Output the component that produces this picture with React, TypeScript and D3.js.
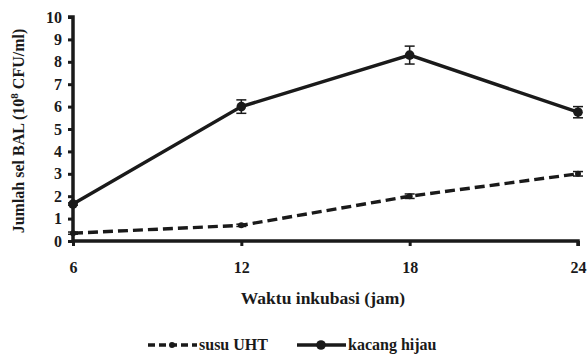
import React, { useEffect, useRef } from 'react'
import * as d3 from 'd3'

const hours = [6, 12, 18, 24]
const susuUHT = [0.35, 0.7, 2.0, 3.0]
const susuErr = [0.05, 0.05, 0.1, 0.1]
const kacangHijau = [1.65, 6.0, 8.3, 5.75]
const kacangErr = [0.05, 0.3, 0.4, 0.25]
const yTicks = [0, 1, 2, 3, 4, 5, 6, 7, 8, 9, 10]

const W = 587
const H = 356
const FONT = 'Liberation Serif, DejaVu Serif, Times New Roman, serif'
const INK = '#1a1a1a'

export default function App() {
  const ref = useRef<SVGSVGElement>(null)

  useEffect(() => {
    const svg = d3.select(ref.current)
    svg.selectAll('*').remove()

    const x = d3.scaleLinear().domain([6, 24]).range([73, 578])
    const y = d3.scaleLinear().domain([0, 10]).range([241, 17])

    // axes
    const yAxis = d3.axisLeft(y).tickValues(yTicks).tickSize(5).tickPadding(6)
    const gy = svg.append('g').attr('transform', `translate(${x(6)},0)`).call(yAxis)
    const xAxis = d3.axisBottom(x).tickValues(hours).tickSize(5).tickPadding(16)
    const gx = svg.append('g').attr('transform', `translate(0,${y(0)})`).call(xAxis)

    ;[gx, gy].forEach(g => {
      g.attr('font-family', FONT).attr('font-size', 16).attr('font-weight', 'bold')
      g.select('.domain').attr('stroke', INK).attr('stroke-width', 3.5)
      g.selectAll('.tick line').attr('stroke', INK).attr('stroke-width', 3)
      g.selectAll('.tick text').attr('fill', INK)
    })
    gx.select('.domain').attr('d', `M${x(6)},0H${x(24)}V5`)
    gy.select('.domain').attr('d', `M-5,${y(10)}H0V${y(0)}`)

    const line = d3.line<number>().x((_, i) => x(hours[i])).y(d => y(d))

    const drawSeries = (vals: number[], errs: number[], dashed: boolean, r: number) => {
      svg.append('path')
        .attr('d', line(vals))
        .attr('fill', 'none')
        .attr('stroke', INK)
        .attr('stroke-width', 3.4)
        .attr('stroke-dasharray', dashed ? '10,5' : null)
      vals.forEach((v, i) => {
        const cx = x(hours[i])
        const e = errs[i]
        const g = svg.append('g').attr('stroke', INK).attr('stroke-width', 1.5)
        g.append('line').attr('x1', cx).attr('x2', cx).attr('y1', y(v + e)).attr('y2', y(v - e))
        g.append('line').attr('x1', cx - 5).attr('x2', cx + 5).attr('y1', y(v + e)).attr('y2', y(v + e))
        g.append('line').attr('x1', cx - 5).attr('x2', cx + 5).attr('y1', y(v - e)).attr('y2', y(v - e))
        svg.append('circle').attr('cx', cx).attr('cy', y(v)).attr('r', r).attr('fill', INK)
      })
    }

    drawSeries(susuUHT, susuErr, true, 3)
    drawSeries(kacangHijau, kacangErr, false, 4.8)

    const label = (sel: d3.Selection<SVGTextElement, unknown, null, undefined>, size = 16) =>
      sel.attr('fill', INK).attr('font-family', FONT).attr('font-weight', 'bold').attr('font-size', size)

    // axis titles
    svg.append('text')
      .attr('x', 323).attr('y', 304)
      .attr('text-anchor', 'middle')
      .call(label, 17.5)
      .text('Waktu inkubasi (jam)')

    const yl = svg.append('text')
      .attr('transform', 'translate(24,131) rotate(-90)')
      .attr('text-anchor', 'middle')
      .call(label, 16)
    yl.append('tspan').text('Jumlah sel BAL (10')
    yl.append('tspan').attr('dy', -6).attr('font-size', 11).text('8')
    yl.append('tspan').attr('dy', 6).text(' CFU/ml)')

    // legend
    const legend = [
      { name: 'susu UHT', dashed: true, r: 3, x0: 148 },
      { name: 'kacang hijau', dashed: false, r: 4.8, x0: 297 },
    ]
    legend.forEach(l => {
      const ly = 345
      svg.append('line')
        .attr('x1', l.x0).attr('x2', l.x0 + 49).attr('y1', ly).attr('y2', ly)
        .attr('stroke', INK).attr('stroke-width', 3.4)
        .attr('stroke-dasharray', l.dashed ? '7,4' : null)
      svg.append('circle').attr('cx', l.x0 + 24).attr('cy', ly).attr('r', l.r).attr('fill', INK)
      svg.append('text')
        .attr('x', l.x0 + 51).attr('y', ly + 5)
        .call(label, 16)
        .text(l.name)
    })
  }, [])

  return (
    <svg ref={ref} width={W} height={H} style={{ position: 'absolute', left: 0, top: 0, background: '#fff' }} />
  )
}
